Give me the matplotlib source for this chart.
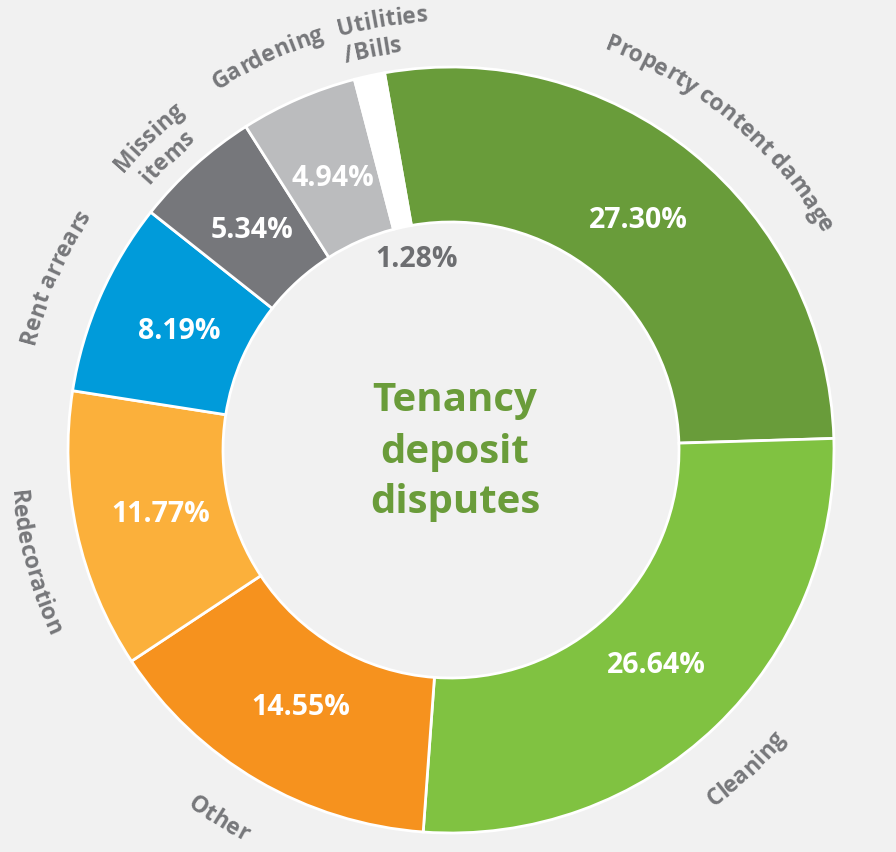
import numpy as np
import matplotlib
matplotlib.use("Agg")
import matplotlib.pyplot as plt
from matplotlib.textpath import TextPath
from matplotlib.font_manager import FontProperties

# ---- data ----
categories = ["Property content damage", "Cleaning", "Other", "Redecoration",
              "Rent arrears", "Missing\nitems", "Gardening", "Utilities\n/Bills"]
values = [27.30, 26.64, 14.55, 11.77, 8.19, 5.34, 4.94, 1.28]
pct_labels = ["27.30%", "26.64%", "14.55%", "11.77%", "8.19%", "5.34%", "4.94%", "1.28%"]
title_text = "Tenancy\ndeposit\ndisputes"

# ---- style ----
colors = ["#699c3a", "#80c241", "#f6921e", "#fbb03b", "#009bda", "#76777b", "#bbbcbe", "#ffffff"]
BG = "#f1f1f1"
GRAY = "#77787b"
FAMILY = ["Open Sans", "DejaVu Sans"]

W, H = 896, 853
fig = plt.figure(figsize=(W / 100, H / 100), dpi=100, facecolor=BG)
ax = fig.add_axes([0, 0, 1, 1])
ax.set_facecolor(BG)

cx, cy = 451, H - 451
R_OUT, R_IN = 383, 228

wedges, _ = ax.pie(values, colors=colors, startangle=100, counterclock=False,
                   center=(cx, cy), radius=R_OUT,
                   wedgeprops=dict(width=R_OUT - R_IN, edgecolor="white", linewidth=2))
ax.set_xlim(0, W)
ax.set_ylim(0, H)
ax.set_aspect("equal")
ax.axis("off")

mids = [(w.theta1 + w.theta2) / 2 for w in wedges]

# percentage labels
for i, (m, lab) in enumerate(zip(mids, pct_labels)):
    if colors[i] == "#ffffff":
        r, col, a = 195, "#6d6e71", m - 2.0
    else:
        r, col, a = 297, "white", m
    t = np.deg2rad(a)
    ax.text(cx + r * np.cos(t), cy + r * np.sin(t), lab, color=col,
            fontsize=20.5, fontweight="bold", family=FAMILY,
            ha="center", va="center")

# centre title
ax.text(cx + 4, H - 452, title_text, color="#6a9c3a", fontsize=29, fontweight="bold",
        family=FAMILY, ha="center", va="center", linespacing=1.4)

# curved outer labels
LFS = 16.5
fp = FontProperties(family=FAMILY, weight="bold", size=LFS)
px = LFS * 100 / 72


def ink_w(s):
    if not s.strip():
        return 0.0
    return TextPath((0, 0), s, size=px, prop=fp).get_extents().x1


def curved(line, theta_c, r_base, upper, align="center"):
    total = ink_w(line)
    for i, ch in enumerate(line):
        if ch == " ":
            continue
        right = ink_w(line[:i + 1])
        cw = TextPath((0, 0), ch, size=px, prop=fp).get_extents()
        c = right - (cw.x1 - cw.x0) / 2
        off = c - total / 2 if align == "center" else c
        if upper:
            th = np.deg2rad(theta_c) - off / r_base
            rot = np.rad2deg(th) - 90
        else:
            th = np.deg2rad(theta_c) + off / r_base
            rot = np.rad2deg(th) + 90
        ax.text(cx + r_base * np.cos(th), cy + r_base * np.sin(th), ch,
                fontproperties=fp, color=GRAY, rotation=rot,
                rotation_mode="anchor", ha="center", va="baseline")


shift = {"Missing\nitems": 2.0, "Utilities\n/Bills": 2.8, "Property content damage": -1.0,
         "Gardening": 1.5, "Redecoration": 2.5, "Other": -2.0, "Cleaning": -1.0}
for lab, m in zip(categories, mids):
    a = ((m + 180) % 360) - 180
    upper = 0 <= a <= 180
    lines = lab.split("\n")
    align = "left" if lab.startswith("Utilities") else "center"
    ang = m + shift.get(lab, 0.0)
    for k, ln in enumerate(lines):
        if upper:
            curved(ln, ang, 430 - k * 28, True, align)
        else:
            curved(ln, ang, 442 + k * 28, False, align)

fig.savefig("out.png", dpi=100, facecolor=BG)
